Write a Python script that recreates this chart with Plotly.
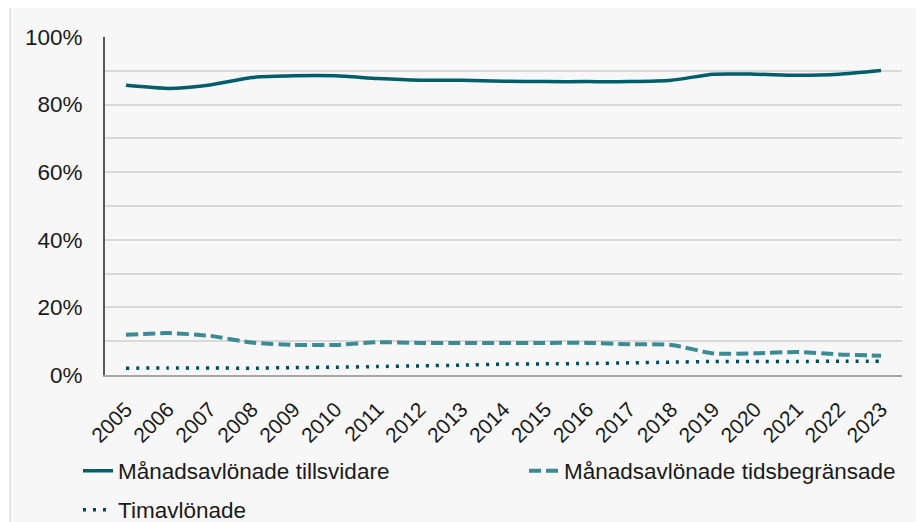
import plotly.graph_objects as go

years = [str(y) for y in range(2005, 2024)]
tillsvidare = [85.7, 84.8, 85.8, 88.0, 88.5, 88.5, 87.7, 87.2, 87.2, 86.9, 86.8, 86.8, 86.8, 87.2, 89.0, 89.0, 88.7, 89.0, 90.1]
tidsbegr = [11.9, 12.4, 11.6, 9.6, 8.9, 8.9, 9.7, 9.5, 9.5, 9.5, 9.5, 9.5, 9.1, 8.9, 6.4, 6.4, 6.8, 6.1, 5.7]
timavl = [2.0, 2.1, 2.1, 2.0, 2.2, 2.3, 2.5, 2.7, 2.9, 3.2, 3.3, 3.4, 3.6, 3.8, 4.0, 4.0, 4.0, 4.1, 4.1]
names = ["Månadsavlönade tillsvidare", "Månadsavlönade tidsbegränsade", "Timavlönade"]
ytickvals = [0, 20, 40, 60, 80, 100]
yticktext = ["0%", "20%", "40%", "60%", "80%", "100%"]

W, H = 924, 522
OFF = 8  # page body margin offset
L, R, T, B = 105 - OFF, 22 + OFF, 37 - OFF, 147 + OFF
pw, ph = W - L - R, H - T - B

def px_x(x):
    # x in screen pixels
    return (x - OFF - L) / pw

def px_y(y):
    # y in screen pixels
    return (H - B - (y - OFF)) / ph

fig = go.Figure()
fig.add_trace(go.Scatter(x=years, y=tillsvidare, name=names[0], mode="lines", legend="legend",
                         line=dict(color="#005e6b", width=3.5, shape="spline", smoothing=0.6)))
fig.add_trace(go.Scatter(x=years, y=tidsbegr, name=names[1], mode="lines", legend="legend2",
                         line=dict(color="#3c8a94", width=4, dash="12px,5px", shape="spline", smoothing=0.6)))
fig.add_trace(go.Scatter(x=years, y=timavl, name=names[2], mode="lines", legend="legend3",
                         line=dict(color="#004a57", width=3.5, dash="3px,7px", shape="spline", smoothing=0.6)))

fig.add_shape(type="rect", xref="paper", yref="paper",
              x0=px_x(10), x1=px_x(950), y0=px_y(560), y1=px_y(7),
              fillcolor="#f7f7f7", line=dict(color="#d0d0d0", width=1), layer="below")

leg_common = dict(orientation="h", xanchor="left", yanchor="middle",
                  font=dict(size=22.5, color="#1a1a1a"), bgcolor="rgba(0,0,0,0)", itemwidth=30)

fig.update_layout(
    width=W, height=H,
    margin=dict(l=L, r=R, t=T, b=B, autoexpand=False),
    paper_bgcolor="white",
    plot_bgcolor="rgba(0,0,0,0)",
    font=dict(family="Liberation Sans, Arial, sans-serif", color="#000000", size=20),
    showlegend=True,
    legend=dict(x=px_x(78), y=px_y(471), **leg_common),
    legend2=dict(x=px_x(524), y=px_y(471), **leg_common),
    legend3=dict(x=px_x(78), y=px_y(510), **leg_common),
)
fig.update_xaxes(type="category", range=[-0.5, len(years) - 0.5],
                 showline=True, linecolor="#a6a6a6", linewidth=1.5,
                 tickangle=-45, tickfont=dict(size=21, color="#1a1a1a"), showgrid=False, ticks="",
                 ticklabelstandoff=12)
fig.update_yaxes(range=[0, 100], tickvals=ytickvals, ticktext=yticktext,
                 showline=True, linecolor="#595959", linewidth=2,
                 showgrid=True, gridcolor="#d9d9d9", gridwidth=1.5,
                 minor=dict(dtick=10, tick0=0, showgrid=True, gridcolor="#d9d9d9", gridwidth=1.5, ticks=""),
                 tickfont=dict(size=22.5, color="#1a1a1a"), ticks="", zeroline=False, ticklabelstandoff=16)

fig.write_html("out.html")
